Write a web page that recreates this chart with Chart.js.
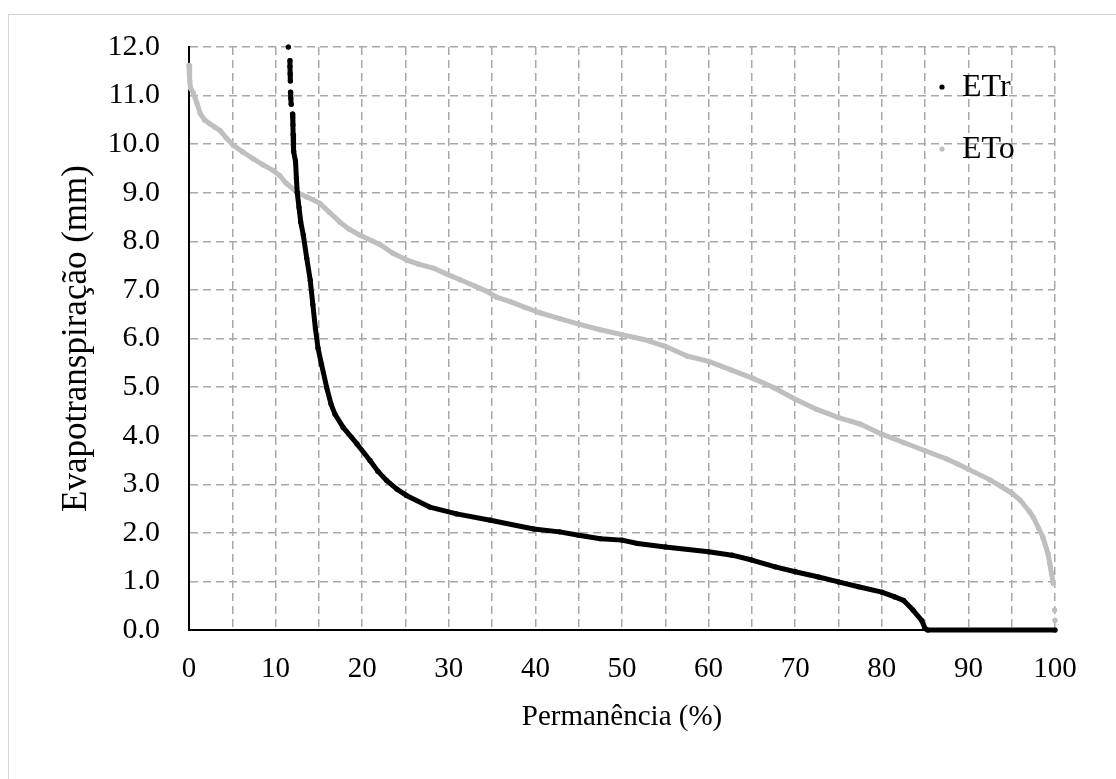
<!DOCTYPE html>
<html>
<head>
<meta charset="utf-8">
<script src="https://cdn.jsdelivr.net/npm/chart.js@4/dist/chart.umd.min.js"></script>
<style>
  html, body { margin: 0; padding: 0; background: #fff; overflow: hidden; }
  #moldura { position: absolute; left: 8px; top: 14px; width: 1130px; height: 800px; border: 1px solid #d6d6d6; }
  #grafico { position: absolute; left: 0; top: 0; }
</style>
</head>
<body>
<div id="moldura"></div>
<canvas id="grafico" width="1116" height="779"></canvas>
<script>
// Curva de permanência - ETr (real) e ETo (referência)
// null = interrupção entre pontos isolados
const etrX = [11.47, null, 11.66, 11.66, 11.68, 11.7, null, 11.72, 11.75, 11.8, null,
  11.95, 12.0, 12.02, 12.05, 12.1, 12.3, 12.4, 12.5, 12.7, 12.9, 13.2, 13.6, 14.0, 14.3, 14.6,
  14.9, 15.3, 15.9, 16.4, 16.86, 17.8, 19.4, 20.9, 21.8, 22.8, 24.0, 25.1, 27.8, 30.9, 34.8, 39.8,
  42.8, 45, 47.5, 50, 51.8, 55, 60, 62.7, 65, 67.7, 70, 72.7, 75, 77.3, 80, 81.5, 82.5,
  83.6, 84.6, 85.0, 85.3, 100];
const etrY = [12.0, null, 11.72, 11.6, 11.45, 11.3, null, 11.07, 10.95, 10.82, null,
  10.62, 10.4, 10.2, 10.0, 9.85, 9.65, 9.3, 9.0, 8.7, 8.4, 8.13, 7.65, 7.2, 6.7, 6.2,
  5.8, 5.47, 4.99, 4.65, 4.44, 4.17, 3.83, 3.49, 3.27, 3.08, 2.9, 2.77, 2.53, 2.39, 2.26, 2.08,
  2.02, 1.95, 1.88, 1.85, 1.78, 1.71, 1.61, 1.54, 1.44, 1.30, 1.20, 1.09, 0.99, 0.89, 0.78, 0.68, 0.61,
  0.41, 0.2, 0.03, 0, 0];

const etoX = [0.0, 0.05, 0.1, 0.2, 0.5, 0.9, 1.3, 1.8, 2.4, 3.0, 3.6, 4.3, 5.1, 6.2, 7.4, 8.5,
  9.7, 10.5, 11.2, 12.4, 13.5, 14.3, 15.1, 16.2, 17.4, 18.5, 19.7, 21.0, 22.1, 23.5, 25.1,
  26.5, 28.2, 29.7, 31.3, 33.0, 34.4, 35.5, 37.1, 38.8, 40.5, 42.8, 45.1, 47.5, 50.0, 52.5,
  55.0, 57.5, 60.0, 62.5, 65.0, 67.5, 70.0, 72.5, 75.0, 77.5, 80.0, 82.5, 85.0, 87.5, 88.7,
  90.0, 92.5, 95.0, 96.0, 97.0, 97.5, 98.1, 98.6, 99.2, 99.4, 99.6, 99.8, null, 99.95, null, 100];
const etoY = [11.62, 11.45, 11.3, 11.15, 11.05, 10.85, 10.63, 10.5, 10.42, 10.35, 10.28, 10.13,
  9.98, 9.84, 9.70, 9.58, 9.46, 9.35, 9.2, 9.02, 8.92, 8.86, 8.78, 8.6, 8.4, 8.25, 8.13,
  8.02, 7.93, 7.76, 7.62, 7.53, 7.45, 7.33, 7.21, 7.08, 6.97, 6.85, 6.76, 6.64, 6.53, 6.41,
  6.29, 6.18, 6.08, 5.98, 5.84, 5.64, 5.53, 5.36, 5.19, 4.99, 4.75, 4.54, 4.37, 4.24, 4.03,
  3.86, 3.69, 3.52, 3.42, 3.31, 3.09, 2.82, 2.67, 2.45, 2.32, 2.1, 1.91, 1.57, 1.37, 1.16,
  0.96, null, 0.41, null, 0.2];

const rotulos = ['ETr', 'ETo'];
const cores = ['#000000', '#bfbfbf'];

const pontos = (xs, ys) => xs.map((x, i) => ({ x: x, y: ys[i] }));

const fonte = 'Liberation Serif, Times New Roman, serif';
const grade = '#a8a8a8';
const tracejado = [8, 5];

// legenda desenhada dentro da área do gráfico
const legendaInterna = {
  id: 'legendaInterna',
  afterDatasetsDraw(chart) {
    const { ctx, chartArea } = chart;
    ctx.save();
    ctx.font = `32px ${fonte}`;
    ctx.textBaseline = 'middle';
    ctx.textAlign = 'left';
    chart.data.datasets.forEach((ds, i) => {
      const x = chartArea.right - 113;
      const y = chartArea.top + 40 + i * 62;
      ctx.fillStyle = ds.borderColor;
      ctx.beginPath();
      ctx.arc(x, y, 2.6, 0, Math.PI * 2);
      ctx.fill();
      ctx.fillStyle = '#000';
      ctx.fillText(ds.label, x + 20, y + 1);
    });
    ctx.restore();
  }
};

const serie = (i, xs, ys) => ({
  label: rotulos[i],
  data: pontos(xs, ys),
  showLine: true,
  spanGaps: false,
  borderColor: cores[i],
  backgroundColor: cores[i],
  borderWidth: 5,
  borderJoinStyle: 'round',
  borderCapStyle: 'round',
  pointRadius: 2.6,
  pointBorderWidth: 0,
  tension: 0,
  clip: false
});

const corGrade = c => (c.tick && c.tick.value === 0 ? 'rgba(0,0,0,0)' : grade);

new Chart(document.getElementById('grafico').getContext('2d'), {
  type: 'scatter',
  data: {
    datasets: [serie(0, etrX, etrY), serie(1, etoX, etoY)]
  },
  options: {
    responsive: false,
    animation: false,
    layout: { padding: { left: 0, top: 45, right: 61, bottom: 0 } },
    plugins: { legend: { display: false }, tooltip: { enabled: false } },
    scales: {
      x: {
        type: 'linear',
        min: 0,
        max: 100,
        afterFit: s => { s.height = 149; },
        ticks: {
          stepSize: 5,
          padding: 22,
          autoSkip: false,
          maxRotation: 0,
          minRotation: 0,
          color: '#000',
          font: { family: fonte, size: 29 },
          callback: v => (v % 10 === 0 ? v : '')
        },
        grid: { drawTicks: false, color: corGrade, lineWidth: 1.5 },
        border: { display: true, color: '#000', width: 2, dash: tracejado },
        title: {
          display: true,
          text: 'Permanência (%)',
          color: '#000',
          font: { family: fonte, size: 29 },
          padding: { top: 0, bottom: 44 }
        }
      },
      y: {
        min: 0,
        max: 12,
        afterFit: s => { s.width = 189; },
        ticks: {
          stepSize: 1,
          padding: 29,
          color: '#000',
          font: { family: fonte, size: 30 },
          callback: v => v.toFixed(1)
        },
        grid: { drawTicks: false, color: corGrade, lineWidth: 1.5 },
        border: { display: true, color: '#000', width: 2, dash: tracejado },
        title: {
          display: true,
          text: 'Evapotranspiração (mm)',
          color: '#000',
          font: { family: fonte, size: 35 },
          padding: { top: 56, bottom: 0 }
        }
      }
    }
  },
  plugins: [legendaInterna]
});
</script>
</body>
</html>
